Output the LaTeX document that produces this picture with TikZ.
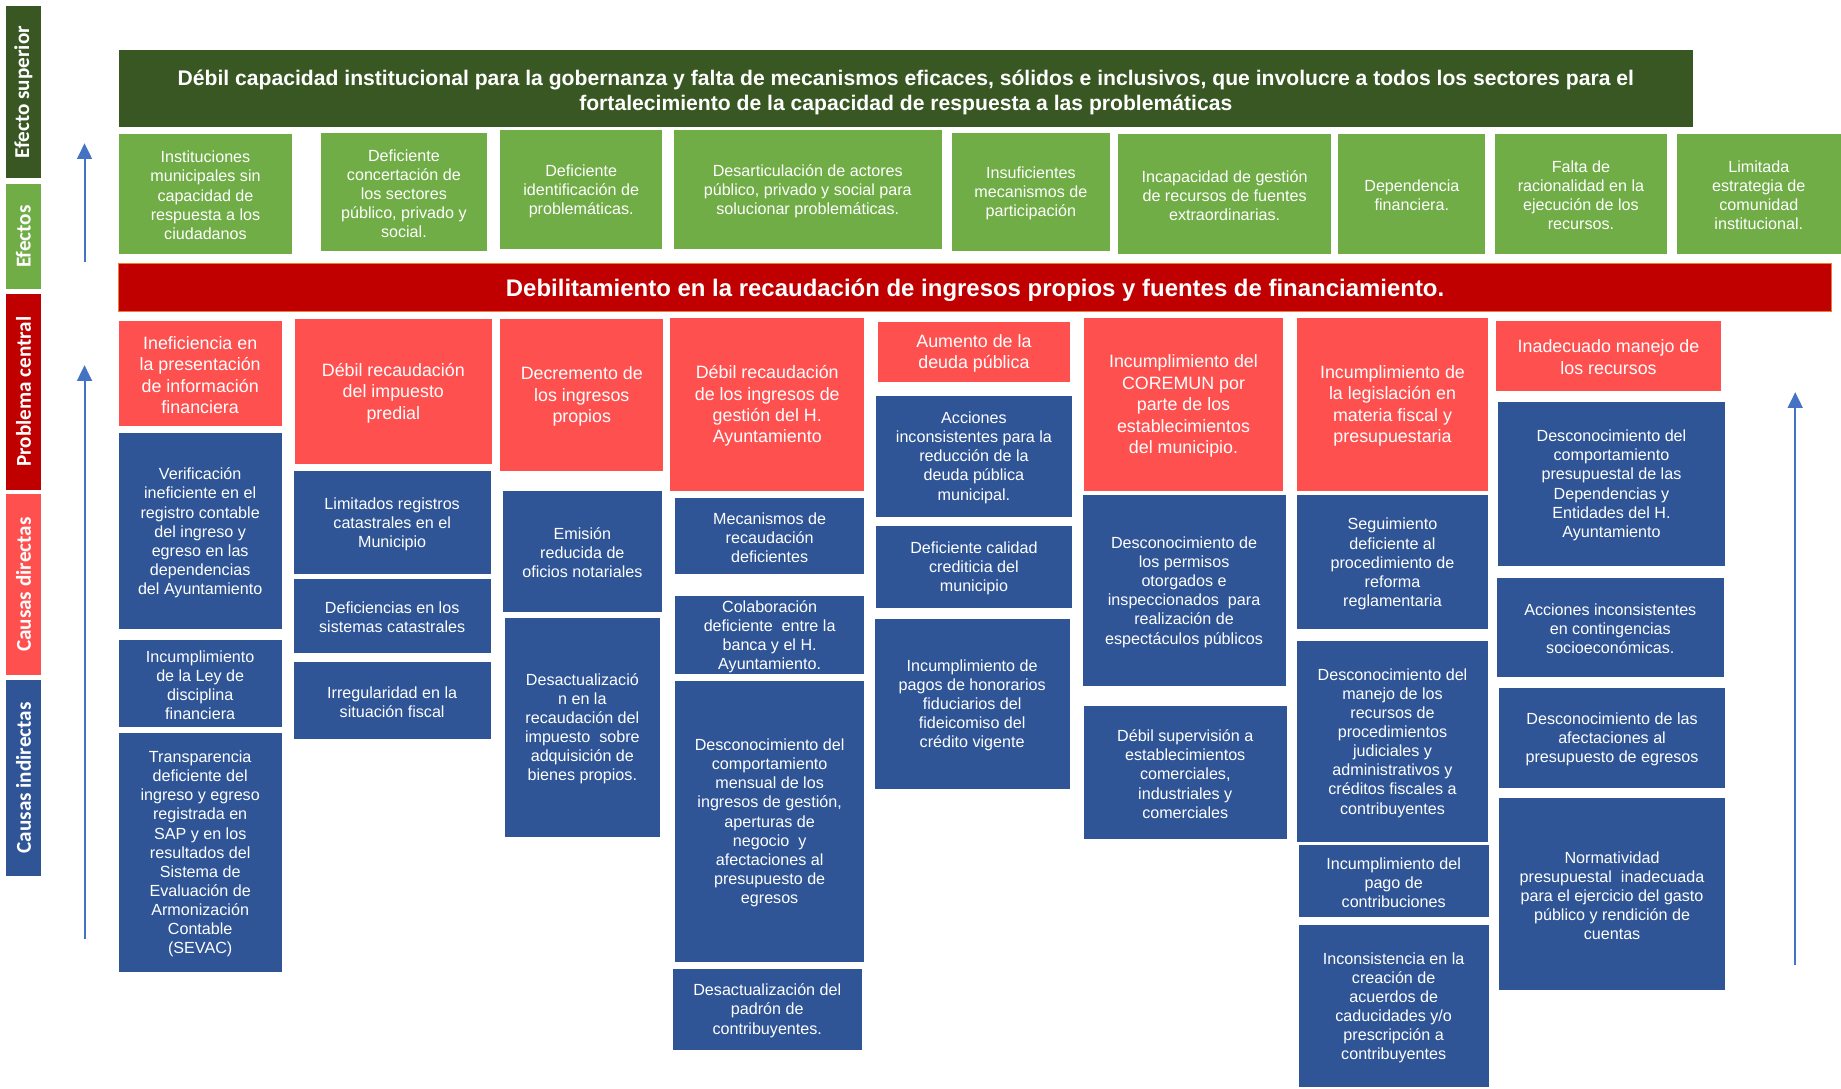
\documentclass[tikz,border=0pt]{standalone}
\usepackage{fontspec}
\setmainfont{Liberation Sans}
\newfontfamily\sidefont{Carlito}
\usetikzlibrary{fit,arrows.meta}
\definecolor{dkgreen}{RGB}{56,87,35}
\definecolor{ltgreen}{RGB}{112,173,71}
\definecolor{dkred}{RGB}{192,0,0}
\definecolor{ltred}{RGB}{255,80,80}
\definecolor{cblue}{RGB}{47,85,151}
\definecolor{arrowblue}{RGB}{68,114,196}
\definecolor{orangeline}{RGB}{237,125,49}
% #1 fill style, #2 name, #3-#6 corners, #7 text, text style = #1 text
\newcommand\bx[7]{\node[#1, fit={(#3,#4) (#5,#6)}] (#2) {};
  \node[#1 text] (#2t) at (#2.center) {#7};}
\begin{document}
\begin{tikzpicture}[x=0.75pt,y=-0.75pt,
  basebox/.style={inner sep=0pt, outer sep=0pt, draw=none},
  basetext/.style={inner sep=0pt, outer sep=0pt, align=center, text=white, yshift=-1pt},
  effbox/.style={basebox, fill=ltgreen},
  effbox text/.style={basetext, font=\fontsize{10.3}{12.2}\selectfont},
  indbox/.style={basebox, fill=cblue},
  indbox text/.style={basetext, font=\fontsize{10.3}{12.2}\selectfont},
  dirbox/.style={basebox, fill=ltred},
  dirbox text/.style={basetext, font=\fontsize{11.4}{13.7}\selectfont},
  topbox/.style={basebox, fill=dkgreen},
  topbox text/.style={basetext, yshift=-1.6pt, font=\bfseries\fontsize{13.5}{15.8}\selectfont},
  centralbox/.style={basebox, fill=dkred, draw=orangeline, line width=0.6pt},
  centralbox text/.style={basetext, yshift=-1.3pt, font=\bfseries\fontsize{15.3}{18}\selectfont},
  sidebox/.style={inner sep=0pt, outer sep=0pt, draw=none},
  sidetext/.style={rotate=90, text=white, inner sep=0pt, font=\sidefont\bfseries\fontsize{13.5}{16}\selectfont},
  uparrow/.style={draw=arrowblue, line width=1.3pt, -{Triangle[length=10pt,width=9.4pt]}}]
\useasboundingbox (0,0) rectangle (1568,927);

% side labels
\node[sidebox, fill=dkgreen, fit={(5,5) (35,152)}] (s1) {};
\node[sidetext] (s1t) at (s1.center) {Efecto superior};
\node[sidebox, fill=ltgreen, fit={(5,157) (35,246)}] (s2) {};
\node[sidetext] (s2t) at (s2.center) {Efectos};
\node[sidebox, fill=dkred, fit={(5,250) (35,417)}] (s3) {};
\node[sidetext] (s3t) at (s3.center) {Problema central};
\node[sidebox, fill=ltred, fit={(5,421) (35,575)}] (s4) {};
\node[sidetext] (s4t) at (s4.center) {Causas directas};
\node[sidebox, fill=cblue, fit={(5,579) (35,746)}] (s5) {};
\node[sidetext] (s5t) at (s5.center) {Causas indirectas};

% arrows
\coordinate (a1s) at (72,223); \coordinate (a1e) at (72,122);
\coordinate (a2s) at (72,800); \coordinate (a2e) at (72,311);
\coordinate (a3s) at (1529,822); \coordinate (a3e) at (1529,334);
\draw[uparrow] (a1s) -- (a1e);
\draw[uparrow] (a2s) -- (a2e);
\draw[uparrow] (a3s) -- (a3e);

% top
\bx{topbox}{top}{101}{43}{1442}{108}{Débil capacidad institucional para la gobernanza y falta de mecanismos eficaces, sólidos e inclusivos, que involucre a todos los sectores para el\\ fortalecimiento de la capacidad de respuesta a las problemáticas}

% effects
\bx{effbox}{e1}{101}{114}{249}{216}{Instituciones\\municipales sin\\capacidad de\\respuesta a los\\ciudadanos}
\bx{effbox}{e2}{273}{113}{415}{214}{Deficiente\\concertación de\\los sectores\\público, privado y\\social.}
\bx{effbox}{e3}{426}{111}{564}{212}{Deficiente\\identificación de\\problemáticas.}
\bx{effbox}{e4}{574}{111}{802}{212}{Desarticulación de actores\\público, privado y social para\\solucionar problemáticas.}
\bx{effbox}{e5}{811}{113}{945}{214}{Insuficientes\\mecanismos de\\participación}
\bx{effbox}{e6}{952}{114}{1134}{216}{Incapacidad de gestión\\de recursos de fuentes\\extraordinarias.}
\bx{effbox}{e7}{1140}{114}{1265}{216}{Dependencia\\financiera.}
\bx{effbox}{e8}{1273}{114}{1420}{216}{Falta de\\racionalidad en la\\ejecución de los\\recursos.}
\bx{effbox}{e9}{1428}{114}{1568}{216}{Limitada\\estrategia de\\comunidad\\institucional.}

% central problem
\bx{centralbox}{central}{101}{224}{1560}{265}{Debilitamiento en la recaudación de ingresos propios y fuentes de financiamiento.}

% direct causes
\bx{dirbox}{c1}{101}{273}{240}{363}{Ineficiencia en\\la presentación\\de información\\financiera}
\bx{dirbox}{c2}{251}{272}{419}{395}{Débil recaudación\\del impuesto\\predial}
\bx{dirbox}{c3}{426}{272}{565}{401}{Decremento de\\los ingresos\\propios}
\bx{dirbox}{c4}{571}{271}{736}{418}{Débil recaudación\\de los ingresos de\\gestión del H.\\Ayuntamiento}
\bx{dirbox}{c5}{748}{274}{911}{325}{Aumento de la\\deuda pública}
\bx{dirbox}{c6}{923}{271}{1093}{418}{Incumplimiento del\\COREMUN por\\parte de los\\establecimientos\\del municipio.}
\bx{dirbox}{c7}{1105}{271}{1267}{418}{Incumplimiento de\\la legislación en\\materia fiscal y\\presupuestaria}
\bx{dirbox}{c8}{1274}{273}{1466}{333}{Inadecuado manejo de\\los recursos}

% indirect causes - column 1
\bx{indbox}{i11}{101}{369}{240}{536}{Verificación\\ineficiente en el\\registro contable\\del ingreso y\\egreso en las\\dependencias\\del Ayuntamiento}
\bx{indbox}{i12}{101}{545}{240}{619}{Incumplimiento\\de la Ley de\\disciplina\\financiera}
\bx{indbox}{i13}{101}{624}{240}{828}{Transparencia\\deficiente del\\ingreso y egreso\\registrada en\\SAP y en los\\resultados del\\Sistema de\\Evaluación de\\Armonización\\Contable\\(SEVAC)}
% column 2
\bx{indbox}{i21}{250}{401}{418}{489}{Limitados registros\\catastrales en el\\Municipio}
\bx{indbox}{i22}{250}{493}{418}{556}{Deficiencias en los\\sistemas catastrales}
\bx{indbox}{i23}{250}{564}{418}{629}{Irregularidad en la\\situación fiscal}
% column 3
\bx{indbox}{i31}{428}{418}{564}{521}{Emisión\\reducida de\\oficios notariales}
\bx{indbox}{i32}{430}{526}{562}{713}{Desactualizació\\n en la\\recaudación del\\impuesto~ sobre\\adquisición de\\bienes propios.}
% column 4
\bx{indbox}{i41}{575}{424}{736}{489}{Mecanismos de\\recaudación\\deficientes}
\bx{indbox}{i42}{575}{508}{736}{574}{Colaboración\\deficiente~ entre la\\banca y el H.\\Ayuntamiento.}
\bx{indbox}{i43}{575}{580}{736}{819}{Desconocimiento del\\comportamiento\\mensual de los\\ingresos de gestión,\\aperturas de\\negocio~ y\\afectaciones al\\presupuesto de\\egresos}
\bx{indbox}{i44}{573}{825}{734}{894}{Desactualización del\\padrón de\\contribuyentes.}
% column 5
\bx{indbox}{i51}{746}{337}{913}{440}{Acciones\\inconsistentes para la\\reducción de la\\deuda pública\\municipal.}
\bx{indbox}{i52}{746}{448}{913}{518}{Deficiente calidad\\crediticia del\\municipio}
\bx{indbox}{i53}{745}{527}{911}{672}{Incumplimiento de\\pagos de honorarios\\fiduciarios del\\fideicomiso del\\crédito vigente}
% column 6
\bx{indbox}{i61}{922}{422}{1095}{584}{Desconocimiento de\\los permisos\\otorgados e\\inspeccionados~ para\\realización de\\espectáculos públicos}
\bx{indbox}{i62}{923}{601}{1096}{715}{Débil supervisión a\\establecimientos\\comerciales,\\industriales y\\comerciales}
% column 7
\bx{indbox}{i71}{1105}{422}{1267}{536}{Seguimiento\\deficiente al\\procedimiento de\\reforma\\reglamentaria}
\bx{indbox}{i72}{1105}{546}{1267}{717}{Desconocimiento del\\manejo de los\\recursos de\\procedimientos\\judiciales y\\administrativos y\\créditos fiscales a\\contribuyentes}
\bx{indbox}{i73}{1106}{720}{1268}{781}{Incumplimiento del\\pago de\\contribuciones}
\bx{indbox}{i74}{1106}{788}{1268}{926}{Inconsistencia en la\\creación de\\acuerdos de\\caducidades y/o\\prescripción a\\contribuyentes}
% column 8
\bx{indbox}{i81}{1276}{342}{1469}{482}{Desconocimiento del\\comportamiento\\presupuestal de las\\Dependencias y\\Entidades del H.\\Ayuntamiento}
\bx{indbox}{i82}{1275}{492}{1468}{577}{Acciones inconsistentes\\en contingencias\\socioeconómicas.}
\bx{indbox}{i83}{1277}{586}{1469}{671}{Desconocimiento de las\\afectaciones al\\presupuesto de egresos}
\bx{indbox}{i84}{1277}{680}{1469}{843}{Normatividad\\presupuestal~ inadecuada\\para el ejercicio del gasto\\público y rendición de\\cuentas}
\end{tikzpicture}
\end{document}
